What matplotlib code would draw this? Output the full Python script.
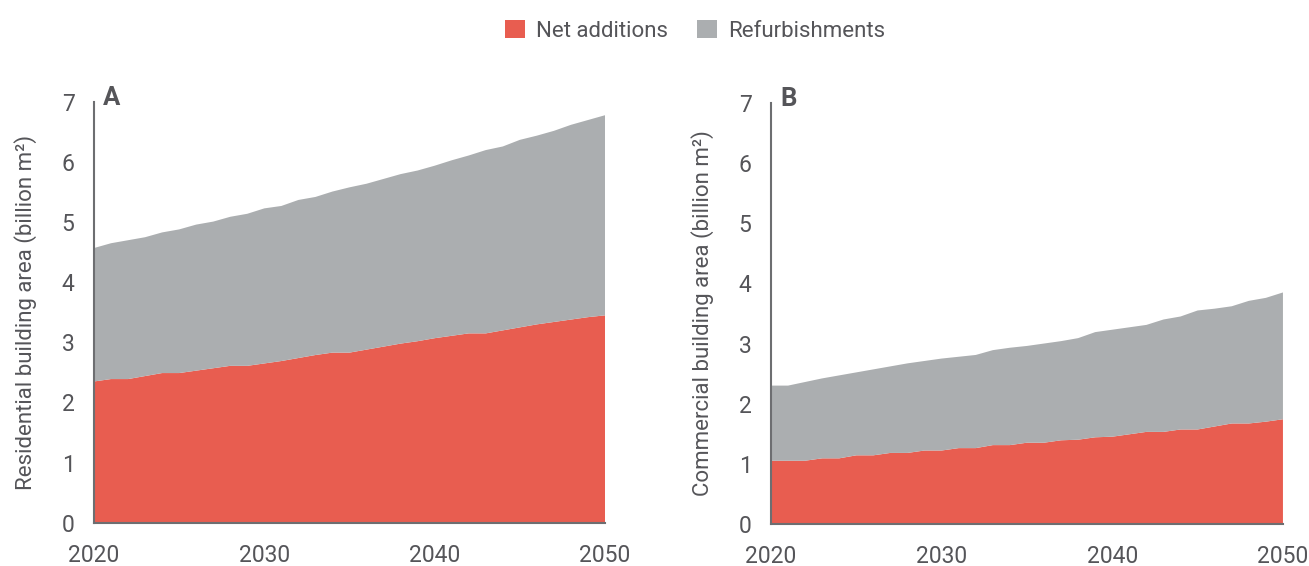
import matplotlib
matplotlib.use("Agg")
import matplotlib.pyplot as plt
from matplotlib.patches import Patch

plt.rcParams['font.family'] = ['Roboto', 'DejaVu Sans']

years = list(range(2020, 2051))

# panel A - residential (billion m2)
res_net = [2.35, 2.39, 2.39, 2.44, 2.49, 2.49, 2.53, 2.57, 2.61, 2.61,
           2.65, 2.69, 2.74, 2.79, 2.83, 2.83, 2.88, 2.93, 2.98, 3.02,
           3.07, 3.11, 3.15, 3.15, 3.20, 3.25, 3.30, 3.34, 3.38, 3.42, 3.45]
res_total = [4.57, 4.65, 4.70, 4.75, 4.83, 4.88, 4.96, 5.01, 5.09, 5.14,
             5.23, 5.27, 5.37, 5.42, 5.51, 5.58, 5.64, 5.72, 5.80, 5.86,
             5.94, 6.03, 6.11, 6.20, 6.26, 6.37, 6.44, 6.52, 6.62, 6.70, 6.78]

# panel B - commercial (billion m2)
com_net = [1.05, 1.05, 1.05, 1.09, 1.09, 1.14, 1.14, 1.18, 1.18, 1.22,
           1.22, 1.26, 1.26, 1.31, 1.31, 1.35, 1.35, 1.39, 1.40, 1.44,
           1.45, 1.49, 1.53, 1.53, 1.57, 1.57, 1.62, 1.67, 1.67, 1.70, 1.74]
com_total = [2.30, 2.30, 2.36, 2.42, 2.47, 2.52, 2.57, 2.62, 2.67, 2.71,
             2.75, 2.78, 2.81, 2.89, 2.93, 2.96, 3.00, 3.04, 3.09, 3.19,
             3.23, 3.27, 3.31, 3.40, 3.45, 3.55, 3.58, 3.62, 3.71, 3.76, 3.85]

res_refurb = [t - n for t, n in zip(res_total, res_net)]
com_refurb = [t - n for t, n in zip(com_total, com_net)]

series_names = ['Net additions', 'Refurbishments']
colors = ['#E85D50', '#ABAEB0']
ylabels = ['Residential building area (billion m²)',
           'Commercial building area (billion m²)']
panel_letters = ['A', 'B']
text_color = '#555559'
axis_color = '#6D6E71'

fig = plt.figure(figsize=(13.09, 5.66), dpi=100)
ax_a = fig.add_axes([0.0718, 0.0765, 0.3904, 0.7433])
ax_b = fig.add_axes([0.5890, 0.0745, 0.3911, 0.7433])

data = [(res_net, res_refurb), (com_net, com_refurb)]
for ax, (net, ref), ylab, letter in zip([ax_a, ax_b], data, ylabels, panel_letters):
    ax.stackplot(years, net, ref, colors=colors, linewidth=0)
    ax.set_xlim(2020, 2050)
    ax.set_ylim(0, 7)
    ax.set_xticks([2020, 2030, 2040, 2050])
    ax.set_yticks(range(0, 8))
    for s in ['top', 'right']:
        ax.spines[s].set_visible(False)
    for s in ['left', 'bottom']:
        ax.spines[s].set_color(axis_color)
        ax.spines[s].set_linewidth(1.5)
        ax.spines[s].set_zorder(5)
    ax.tick_params(axis='y', length=0, pad=14, labelsize=16.5, labelcolor=text_color)
    ax.tick_params(axis='x', length=0, pad=15, labelsize=16.5, labelcolor=text_color)
    ax.set_ylabel(ylab, fontsize=16, color=text_color, labelpad=18)
    ax.text(0.018, 0.992, letter, transform=ax.transAxes, fontsize=18.5,
            fontweight='bold', color=text_color, va='baseline', ha='left')

handles = [Patch(facecolor=c, edgecolor='none') for c in colors]
fig.legend(handles, series_names, loc='upper center', bbox_to_anchor=(0.531, 1.0),
           ncol=2, frameon=False, fontsize=16, labelcolor=text_color,
           handlelength=0.9, handleheight=0.9, handletextpad=0.5, columnspacing=1.3)

fig.savefig('out.png', dpi=100)
